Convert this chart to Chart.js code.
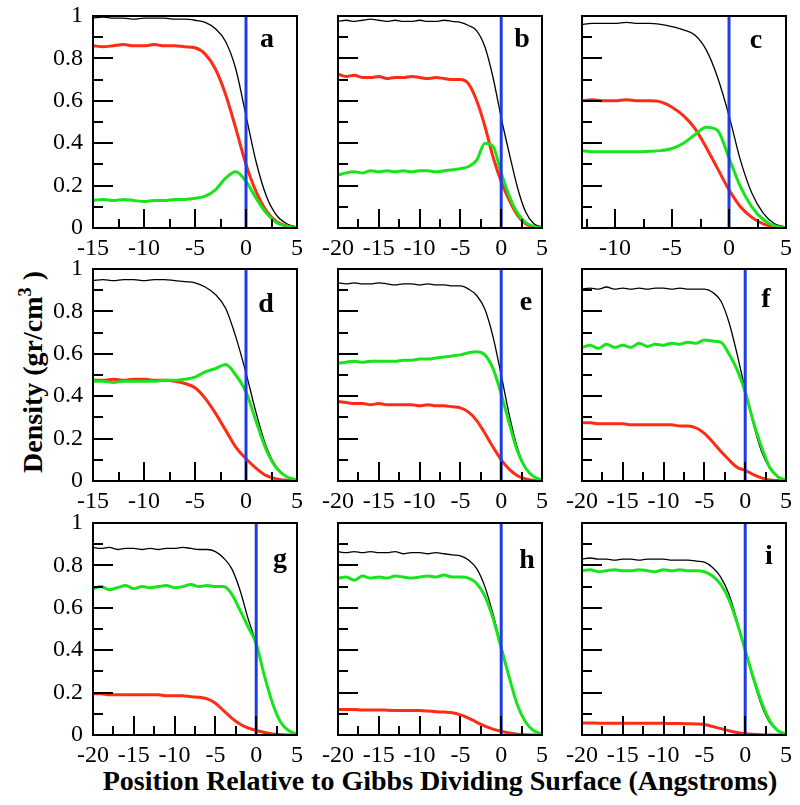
<!DOCTYPE html>
<html>
<head>
<meta charset="utf-8">
<script src="https://cdn.jsdelivr.net/npm/chart.js@4.4.0/dist/chart.umd.min.js"></script>
<style>
  body { margin: 0; background: #fff; width: 800px; height: 805px; position: relative; overflow: hidden;
         font-family: "Liberation Serif", "Times New Roman", serif; }
  canvas { position: absolute; }
  .ttl { position: absolute; font-weight: bold; white-space: nowrap; color: #000; }
</style>
</head>
<body>
<div class="ttl" id="ytitle" style="left:32px; top:372px; font-size:28px; transform:translate(-50%,-50%) rotate(-90deg);">Density (gr/cm<sup style="font-size:0.65em; vertical-align:0.6em;">3</sup>&nbsp;)</div>
<div class="ttl" id="xtitle" style="left:440px; top:767px; font-size:28px; line-height:28px; transform:translateX(-50%);">Position Relative to Gibbs Dividing Surface (Angstroms)</div>
<script>
// x positions (Angstroms) for each panel type
const xA = [-15,-14,-13,-12,-11,-10,-9,-8,-7,-6,-5,-4,-3,-2,-1,0,1,2,3,4,5];
const xB = [-20,-19,-18,-17,-16,-15,-14,-13,-12,-11,-10,-9,-8,-7,-6,-5,-4,-3,-2,-1,0,1,2,3,4,5];
const xC = [-13,-12,-11,-10,-9,-8,-7,-6,-5,-4,-3,-2,-1,0,1,2,3,4,5];

// tick labels
const ticksA = [-15,-10,-5,0,5];
const ticksB = [-20,-15,-10,-5,0,5];
const ticksC = [-10,-5,0,5];
const yTicks = [0,0.2,0.4,0.6,0.8,1];

// density profiles: black = total, red, green
const aBlack = [0.99,0.995,0.99,0.99,0.985,0.99,0.99,0.99,0.985,0.985,0.98,0.97,0.94,0.88,0.75,0.53,0.31,0.15,0.06,0.02,0.005];
const aRed   = [0.86,0.855,0.86,0.865,0.86,0.86,0.865,0.86,0.86,0.855,0.85,0.82,0.75,0.63,0.47,0.30,0.17,0.08,0.03,0.01,0.0];
const aGreen = [0.13,0.135,0.13,0.135,0.13,0.125,0.13,0.13,0.135,0.135,0.14,0.15,0.18,0.235,0.265,0.22,0.14,0.07,0.025,0.008,0.0];

const bBlack = [0.975,0.98,0.975,0.98,0.985,0.98,0.975,0.98,0.975,0.975,0.98,0.975,0.975,0.98,0.975,0.97,0.955,0.93,0.855,0.71,0.52,0.35,0.19,0.075,0.02,0.005];
const bRed   = [0.725,0.715,0.72,0.71,0.71,0.715,0.705,0.71,0.71,0.715,0.71,0.705,0.71,0.705,0.70,0.70,0.68,0.60,0.48,0.335,0.22,0.13,0.06,0.02,0.005,0.0];
const bGreen = [0.25,0.26,0.265,0.26,0.27,0.265,0.27,0.265,0.27,0.265,0.27,0.27,0.265,0.27,0.275,0.28,0.29,0.32,0.40,0.385,0.26,0.15,0.07,0.025,0.008,0.0];

const cBlack = [0.96,0.965,0.965,0.965,0.97,0.965,0.965,0.96,0.95,0.935,0.91,0.84,0.71,0.53,0.32,0.165,0.07,0.02,0.005];
const cRed   = [0.60,0.605,0.60,0.60,0.605,0.60,0.60,0.595,0.57,0.53,0.47,0.38,0.28,0.18,0.10,0.05,0.02,0.005,0.0];
const cGreen = [0.365,0.36,0.36,0.36,0.36,0.36,0.362,0.365,0.375,0.40,0.44,0.475,0.46,0.33,0.195,0.10,0.04,0.01,0.002];

const dBlack = [0.945,0.95,0.945,0.95,0.95,0.945,0.95,0.95,0.945,0.94,0.935,0.915,0.88,0.815,0.68,0.51,0.32,0.16,0.065,0.02,0.005];
const dRed   = [0.475,0.475,0.48,0.475,0.48,0.48,0.475,0.475,0.47,0.46,0.44,0.39,0.32,0.24,0.16,0.105,0.06,0.025,0.01,0.003,0.0];
const dGreen = [0.47,0.47,0.465,0.47,0.47,0.47,0.47,0.475,0.475,0.48,0.49,0.515,0.53,0.55,0.50,0.42,0.28,0.145,0.06,0.02,0.005];

const eBlack = [0.935,0.93,0.935,0.93,0.93,0.935,0.93,0.925,0.93,0.93,0.925,0.93,0.925,0.925,0.92,0.92,0.905,0.875,0.81,0.68,0.50,0.31,0.155,0.06,0.02,0.005];
const eRed   = [0.375,0.37,0.365,0.365,0.36,0.365,0.36,0.36,0.36,0.36,0.355,0.36,0.355,0.355,0.35,0.345,0.325,0.285,0.225,0.16,0.10,0.055,0.025,0.01,0.003,0.0];
const eGreen = [0.555,0.56,0.565,0.56,0.565,0.565,0.565,0.565,0.57,0.57,0.575,0.575,0.58,0.585,0.59,0.595,0.605,0.61,0.595,0.53,0.41,0.27,0.14,0.06,0.02,0.005];

const fBlack = [0.905,0.91,0.905,0.915,0.905,0.91,0.905,0.91,0.905,0.91,0.91,0.905,0.91,0.905,0.905,0.905,0.89,0.85,0.75,0.60,0.43,0.27,0.14,0.06,0.02,0.005];
const fRed   = [0.275,0.275,0.27,0.27,0.27,0.27,0.265,0.265,0.265,0.265,0.265,0.265,0.26,0.26,0.25,0.225,0.185,0.14,0.10,0.065,0.05,0.03,0.015,0.005,0.002,0.0];
const fGreen = [0.63,0.64,0.625,0.645,0.63,0.64,0.63,0.65,0.635,0.645,0.64,0.65,0.645,0.655,0.65,0.665,0.66,0.655,0.60,0.525,0.42,0.28,0.16,0.065,0.02,0.005];

const gBlack = [0.885,0.88,0.885,0.875,0.88,0.88,0.875,0.88,0.875,0.88,0.88,0.885,0.88,0.875,0.875,0.865,0.835,0.785,0.685,0.55,0.43,0.28,0.15,0.06,0.02,0.005];
const gRed   = [0.195,0.195,0.19,0.19,0.19,0.19,0.19,0.19,0.19,0.185,0.185,0.185,0.18,0.178,0.17,0.15,0.115,0.08,0.052,0.033,0.022,0.012,0.005,0.002,0.0,0.0];
const gGreen = [0.69,0.70,0.685,0.695,0.705,0.69,0.70,0.695,0.70,0.705,0.695,0.70,0.71,0.70,0.705,0.70,0.70,0.665,0.59,0.51,0.43,0.28,0.15,0.06,0.02,0.005];

const hBlack = [0.865,0.86,0.865,0.86,0.865,0.86,0.86,0.865,0.855,0.86,0.86,0.855,0.86,0.855,0.85,0.845,0.825,0.785,0.70,0.57,0.42,0.27,0.14,0.06,0.02,0.005];
const hRed   = [0.12,0.12,0.12,0.118,0.118,0.118,0.117,0.116,0.115,0.115,0.115,0.113,0.11,0.108,0.105,0.095,0.08,0.06,0.042,0.028,0.018,0.01,0.004,0.001,0.0,0.0];
const hGreen = [0.74,0.745,0.73,0.75,0.74,0.745,0.74,0.75,0.745,0.74,0.745,0.75,0.745,0.755,0.745,0.745,0.74,0.715,0.655,0.55,0.41,0.27,0.14,0.06,0.02,0.005];

const iBlack = [0.83,0.835,0.83,0.83,0.825,0.83,0.83,0.825,0.83,0.83,0.83,0.825,0.825,0.825,0.82,0.815,0.79,0.745,0.665,0.54,0.40,0.26,0.14,0.058,0.02,0.005];
const iRed   = [0.057,0.057,0.056,0.056,0.055,0.055,0.055,0.055,0.055,0.055,0.055,0.054,0.054,0.053,0.052,0.05,0.04,0.03,0.02,0.012,0.006,0.003,0.001,0.0,0.0,0.0];
const iGreen = [0.775,0.78,0.77,0.775,0.78,0.775,0.775,0.78,0.775,0.77,0.78,0.775,0.78,0.775,0.775,0.77,0.75,0.71,0.64,0.53,0.40,0.27,0.155,0.067,0.02,0.005];

// layout
const FONT = '"Liberation Serif", "Times New Roman", serif';
const colLeft = [93, 338, 582];
const rowTop = [16, 269, 523];
const PADL = 70, PADT = 26, PADR = 12, PADB = 40;
const PW = 204, PH = 212;
const CW = PADL + PW + PADR, CH = PADT + PH + PADB;
const BLUE = '#1d3ce6', RED = '#ff2b14', GREEN = '#18e41c';

const panels = [
  { name: 'a', col: 0, row: 0, xs: xA, ticks: ticksA, min: -15, k: aBlack, r: aRed, g: aGreen, dx: 30, dy: 31 },
  { name: 'b', col: 1, row: 0, xs: xB, ticks: ticksB, min: -20, k: bBlack, r: bRed, g: bGreen, dx: 20, dy: 31 },
  { name: 'c', col: 2, row: 0, xs: xC, ticks: ticksC, min: -12.9, k: cBlack, r: cRed, g: cGreen, dx: 30, dy: 32 },
  { name: 'd', col: 0, row: 1, xs: xA, ticks: ticksA, min: -15, k: dBlack, r: dRed, g: dGreen, dx: 31, dy: 43 },
  { name: 'e', col: 1, row: 1, xs: xB, ticks: ticksB, min: -20, k: eBlack, r: eRed, g: eGreen, dx: 16, dy: 41 },
  { name: 'f', col: 2, row: 1, xs: xB, ticks: ticksB, min: -20, k: fBlack, r: fRed, g: fGreen, dx: 20, dy: 38 },
  { name: 'g', col: 0, row: 2, xs: xB, ticks: ticksB, min: -20, k: gBlack, r: gRed, g: gGreen, dx: 17, dy: 44 },
  { name: 'h', col: 1, row: 2, xs: xB, ticks: ticksB, min: -20, k: hBlack, r: hRed, g: hGreen, dx: 15, dy: 45 },
  { name: 'i', col: 2, row: 2, xs: xB, ticks: ticksB, min: -20, k: iBlack, r: iRed, g: iGreen, dx: 17, dy: 41 }
];

// box, inward tick marks and the panel letter
const framePlugin = {
  id: 'frame',
  afterDraw(chart, args, opts) {
    const { ctx, chartArea: a, scales: { x, y } } = chart;
    const p = opts.panel;
    ctx.save();
    ctx.strokeStyle = '#000';
    ctx.lineWidth = 2;
    ctx.beginPath();
    const ys = [];
    yTicks.forEach((v, i) => {
      ys.push([v, 20]);
      if (i > 0) ys.push([v - 0.1, 10]);
    });
    ys.forEach(([v, len]) => {
      const py = Math.round(y.getPixelForValue(v));
      ctx.moveTo(a.left, py);
      ctx.lineTo(a.left + len, py);
    });
    const step = p.ticks[1] - p.ticks[0];
    const xs = [];
    p.ticks.forEach(t => {
      xs.push([t, 19]);
      if (t - step / 2 >= p.min) xs.push([t - step / 2, 9]);
    });
    xs.forEach(([v, len]) => {
      const px = Math.round(x.getPixelForValue(v));
      ctx.moveTo(px, a.bottom);
      ctx.lineTo(px, a.bottom - len);
    });
    ctx.stroke();
    ctx.strokeRect(a.left, a.top, a.right - a.left, a.bottom - a.top);
    ctx.fillStyle = '#000';
    ctx.font = 'bold 28px ' + FONT;
    ctx.textAlign = 'center';
    ctx.textBaseline = 'alphabetic';
    ctx.fillText(p.name, a.right - p.dx, a.top + p.dy);
    ctx.restore();
  }
};

function makePanel(p) {
  const cv = document.createElement('canvas');
  cv.width = CW; cv.height = CH;
  cv.style.width = CW + 'px'; cv.style.height = CH + 'px';
  cv.style.left = (colLeft[p.col] - PADL) + 'px';
  cv.style.top = (rowTop[p.row] - PADT) + 'px';
  document.body.appendChild(cv);

  const pts = arr => p.xs.map((x, i) => ({ x: x, y: arr[i] }));

  new Chart(cv, {
    type: 'line',
    data: {
      datasets: [
        { data: [{ x: 0, y: 0 }, { x: 0, y: 1 }], borderColor: BLUE, borderWidth: 3 },
        { data: pts(p.g), borderColor: GREEN, borderWidth: 3 },
        { data: pts(p.r), borderColor: RED, borderWidth: 3 },
        { data: pts(p.k), borderColor: '#000', borderWidth: 1.3 }
      ]
    },
    options: {
      responsive: false,
      animation: false,
      devicePixelRatio: 1,
      layout: { padding: { left: 0, top: PADT, right: PADR, bottom: 0 } },
      elements: {
        point: { radius: 0 },
        line: { cubicInterpolationMode: 'monotone', fill: false }
      },
      plugins: {
        legend: { display: false },
        tooltip: { enabled: false },
        frame: { panel: p }
      },
      scales: {
        x: {
          type: 'linear', min: p.min, max: 5,
          grid: { display: false, drawTicks: false },
          border: { display: false },
          afterBuildTicks: s => { s.ticks = p.ticks.map(v => ({ value: v })); },
          afterFit: s => { s.height = PADB; },
          ticks: { padding: 6, color: '#000', maxRotation: 0, autoSkip: false, font: { family: FONT, size: 24 } }
        },
        y: {
          type: 'linear', min: 0, max: 1,
          grid: { display: false, drawTicks: false },
          border: { display: false },
          afterBuildTicks: s => { s.ticks = yTicks.map(v => ({ value: v })); },
          afterFit: s => { s.width = PADL; },
          ticks: {
            display: p.col === 0, padding: 10, color: '#000', font: { family: FONT, size: 24 },
            callback: v => String(Math.round(v * 10) / 10)
          }
        }
      }
    },
    plugins: [framePlugin]
  });
}

panels.forEach(makePanel);
</script>
</body>
</html>
